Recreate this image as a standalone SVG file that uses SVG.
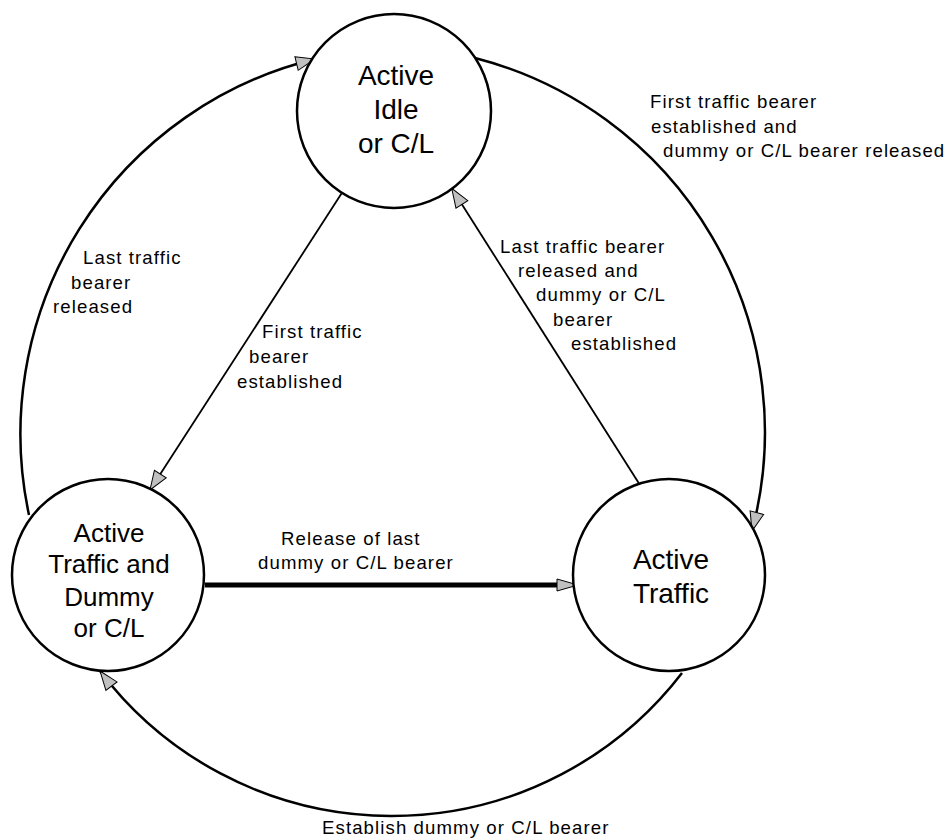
<svg xmlns="http://www.w3.org/2000/svg" width="952" height="839" viewBox="0 0 952 839">
<style>
  .node { fill: #ffffff; stroke: #000000; stroke-width: 2.5; }
  .big { font-family: "Liberation Sans", Arial, sans-serif; font-size: 28px; fill: #000; text-anchor: middle; }
  .mid { font-family: "Liberation Sans", Arial, sans-serif; font-size: 26px; fill: #000; text-anchor: middle; }
  .lbl { font-family: "Liberation Sans", Arial, sans-serif; font-size: 18.6px; letter-spacing: 1.1px; fill: #000; }
  .arc { fill: none; stroke: #000; stroke-width: 2.5; marker-end: url(#arr); }
  .ln { fill: none; stroke: #000; stroke-width: 1.8; marker-end: url(#arr); }
  .thick { fill: none; stroke: #000; stroke-width: 5; }
  .head { fill: #c0c0c0; stroke: #000; stroke-width: 1; }
</style>
<defs>
  <marker id="arr" markerUnits="userSpaceOnUse" viewBox="-1 -1 22 16" refX="19" refY="7" markerWidth="22" markerHeight="16" orient="auto" overflow="visible">
    <path d="M0,0 L19,7 L0,14 z" class="head"/>
  </marker>
</defs>
<rect x="0" y="0" width="952" height="839" fill="#ffffff"/>
<g id="connectors">
  <path class="arc" d="M29,515 A386,386 0 0,1 315,59"/>
  <path class="arc" d="M475,58 A386,386 0 0,1 752,531"/>
  <path class="arc" d="M682,673 A366,366 0 0,1 100,671"/>
  <path class="ln" d="M341.5,193.5 L150,490"/>
  <path class="ln" d="M638.7,483 L451.7,188.3"/>
  <path class="thick" d="M205,585 L558,585"/>
  <polygon class="head" points="578,585 557,579 557,591"/>
</g>
<g id="labels">
  <text class="lbl" x="650" y="108">First traffic bearer</text>
  <text class="lbl" x="651" y="133">established and</text>
  <text class="lbl" x="663" y="157">dummy or C/L bearer released</text>
  <text class="lbl" x="500" y="253">Last traffic bearer</text>
  <text class="lbl" x="518" y="277">released and</text>
  <text class="lbl" x="536" y="301">dummy or C/L</text>
  <text class="lbl" x="553" y="326">bearer</text>
  <text class="lbl" x="571" y="350">established</text>
  <text class="lbl" x="83" y="264">Last traffic</text>
  <text class="lbl" x="71" y="289">bearer</text>
  <text class="lbl" x="53" y="313">released</text>
  <text class="lbl" x="262" y="338">First traffic</text>
  <text class="lbl" x="249" y="363">bearer</text>
  <text class="lbl" x="237" y="388">established</text>
  <text class="lbl" x="281" y="545">Release of last</text>
  <text class="lbl" x="258" y="569">dummy or C/L bearer</text>
  <text class="lbl" x="322" y="834">Establish dummy or C/L bearer</text>
</g>
<g id="node-idle">
  <circle class="node" cx="394" cy="111" r="97"/>
  <text class="big" x="396" y="85">Active</text>
  <text class="big" x="396" y="119">Idle</text>
  <text class="big" x="396" y="153">or C/L</text>
</g>
<g id="node-traffic-dummy">
  <circle class="node" cx="108" cy="575" r="96"/>
  <text class="mid" x="109" y="542">Active</text>
  <text class="mid" x="109" y="573">Traffic and</text>
  <text class="mid" x="109" y="606">Dummy</text>
  <text class="mid" x="109" y="637">or C/L</text>
</g>
<g id="node-traffic">
  <circle class="node" cx="669" cy="575" r="96"/>
  <text class="big" x="671" y="569">Active</text>
  <text class="big" x="671" y="603">Traffic</text>
</g>
</svg>
